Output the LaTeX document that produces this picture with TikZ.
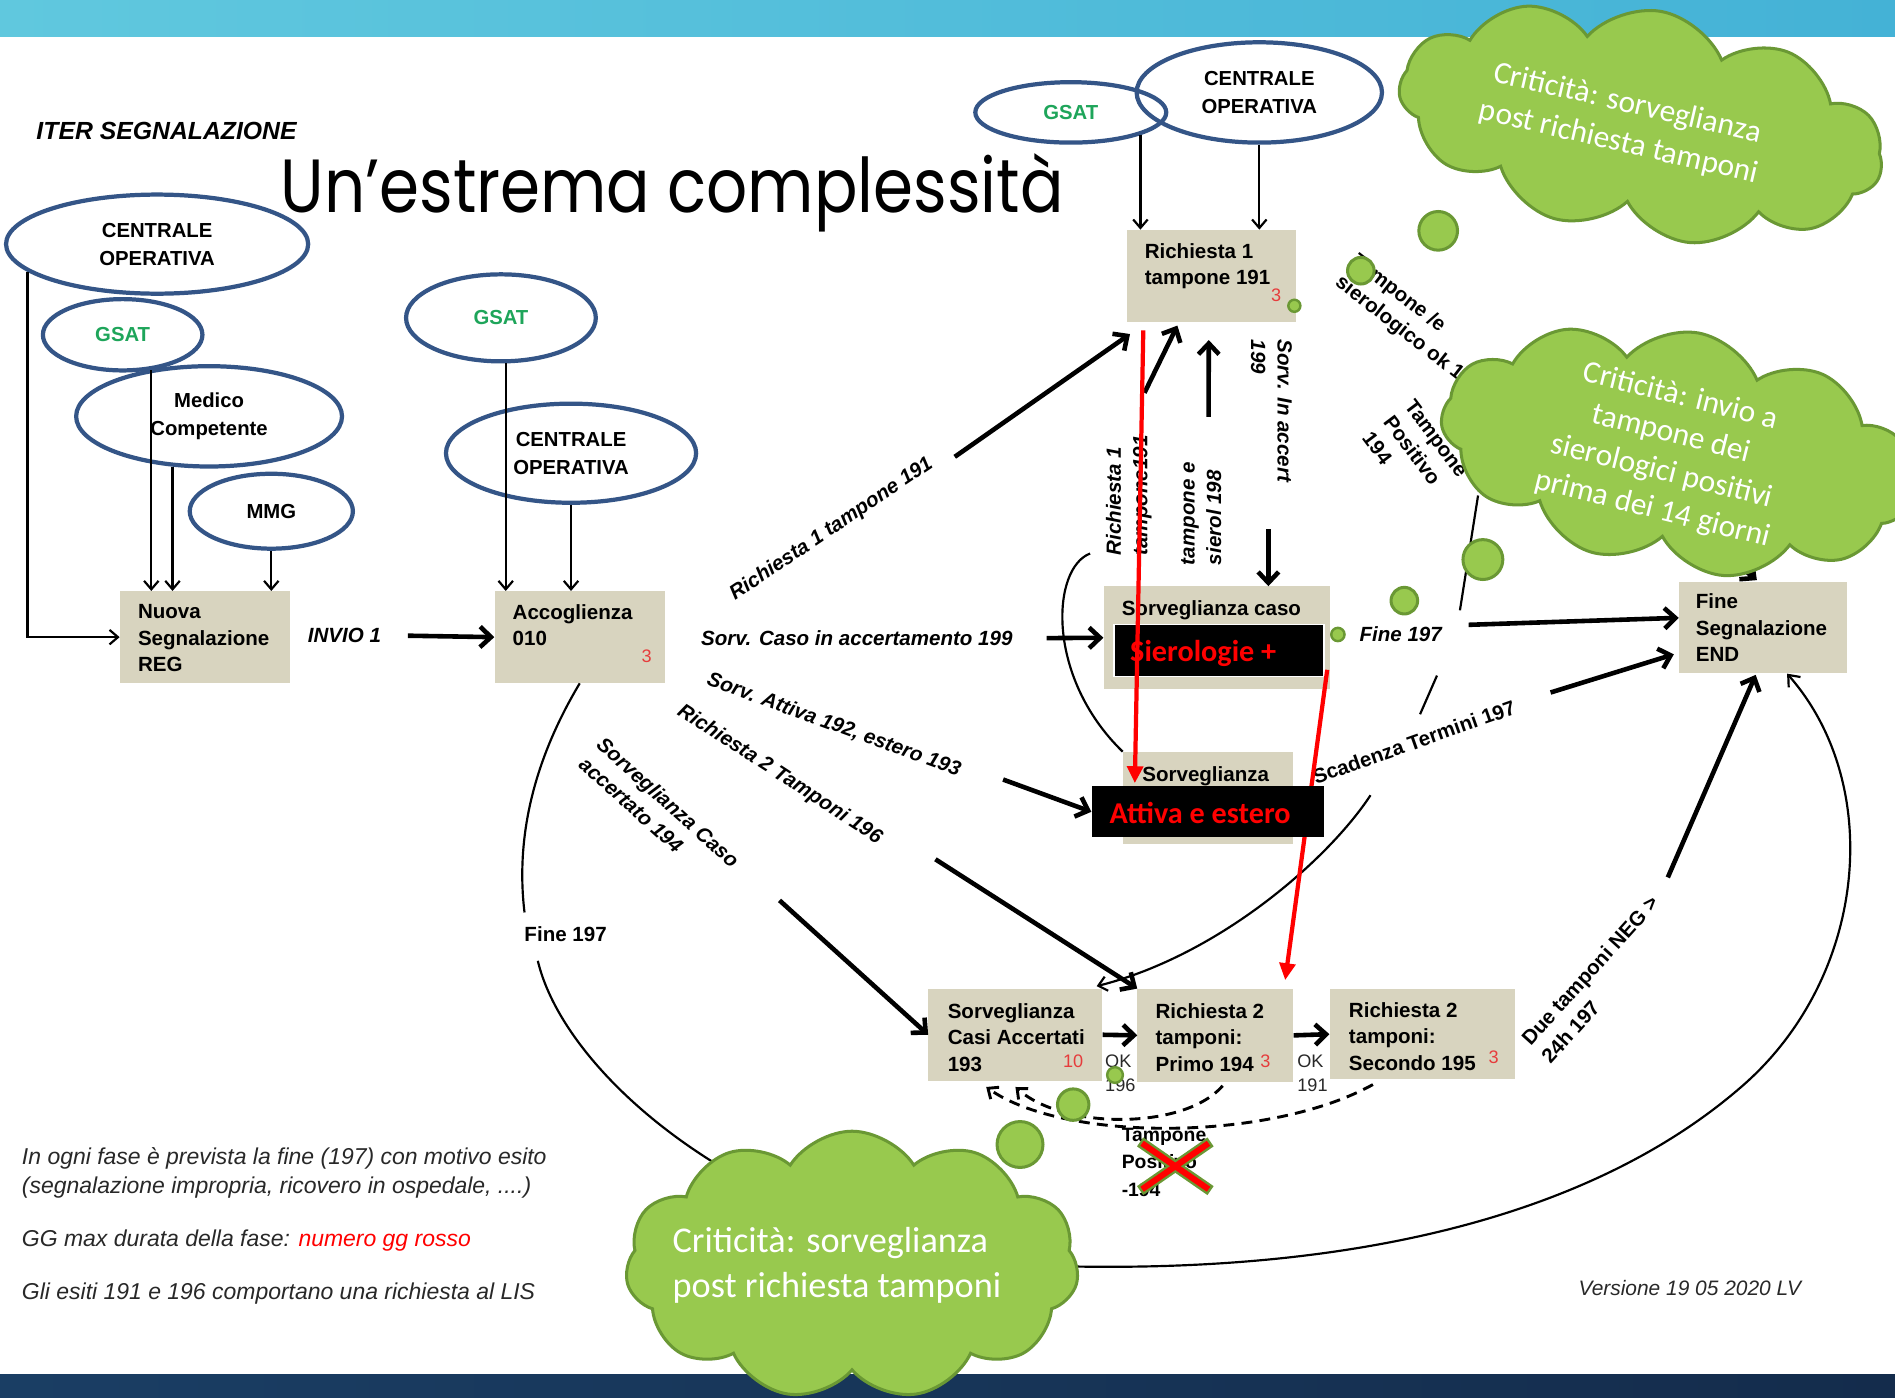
\documentclass[tikz,border=0pt]{standalone}
\usepackage{fontspec}
\setmainfont{Liberation Sans}
\newfontfamily\calib{Carlito}
\newfontfamily\titlef{Poppins}
\usetikzlibrary{arrows.meta,shapes.geometric,shapes.symbols,calc}
\pgfdeclarelayer{front}
\pgfsetlayers{main,front}
\definecolor{beige}{RGB}{216,212,191}
\definecolor{ellc}{RGB}{52,85,135}
\definecolor{gsatg}{RGB}{30,165,90}
\definecolor{cgreen}{RGB}{152,201,78}
\definecolor{cgreenD}{RGB}{106,152,52}
\definecolor{bandL}{RGB}{96,200,222}
\definecolor{bandR}{RGB}{68,178,214}
\definecolor{navyL}{RGB}{26,62,100}
\definecolor{navyR}{RGB}{20,44,76}
\definecolor{numred}{RGB}{230,60,60}
\definecolor{notec}{RGB}{40,40,40}
\begin{document}
\begin{tikzpicture}[x=1pt,y=-1pt,
 ell/.style={ellipse, draw=ellc, line width=3.5pt, inner sep=0, align=center, font=\fontsize{16.8}{23}\selectfont\bfseries},
 boxs/.style={fill=beige, draw=none, inner sep=0, anchor=north west},
 btxt/.style={font=\fontsize{17}{22}\selectfont\bfseries, align=left, anchor=north west, inner sep=0},
 num/.style={font=\fontsize{15}{15}\selectfont, text=numred, inner sep=0},
 lbi/.style={font=\fontsize{17}{22}\selectfont\bfseries\itshape, inner sep=0, align=left},
 lbu/.style={font=\fontsize{17}{22}\selectfont\bfseries, inner sep=0, align=left},
 thk/.style={line width=3.8pt, -{Straight Barb[length=9pt,width=17pt]}},
 thn/.style={line width=1.8pt, -{Straight Barb[length=7pt,width=12pt]}},
 crv/.style={line width=1.8pt},
 dsh/.style={line width=2.4pt, dash pattern=on 9pt off 6pt, -{Straight Barb[length=7pt,width=12pt]}},
 redarr/.style={draw=red, line width=3.5pt, -{Triangle[length=14pt,width=13pt]}},
 bub/.style={circle, fill=cgreen, draw=cgreenD, line width=2.5pt, inner sep=0},
 cld/.style={cloud, cloud puffs=11, cloud puff arc=115, cloud ignores aspect, fill=cgreen, draw=cgreenD, line width=2.5pt, inner sep=0},
 ctxt/.style={text=white, align=center, inner sep=0},
 blk/.style={fill=black, inner sep=0, anchor=north west},
 rtxt/.style={text=red, font=\calib\bfseries\fontsize{25}{25}\selectfont, inner sep=0, anchor=base west},
 note/.style={anchor=base west, inner sep=0, font=\fontsize{19}{22}\selectfont\itshape, text=notec}
]
\useasboundingbox (0,0) rectangle (1568,1156);
\fill[white] (0,0) rectangle (1568,1156);
\shade[left color=bandL, right color=bandR] (0,0) rectangle (1568,30);
\shade[left color=navyL, right color=navyR] (0,1137) rectangle (1568,1156);

% title and texts
\node[anchor=base west, inner sep=0, font=\titlef\fontsize{53.3}{60}\selectfont] (title) at (232,175.5) {\scalebox{1}[1.17]{Un’estrema complessità}};
\node[anchor=base west, inner sep=0, font=\fontsize{20.5}{22}\selectfont\bfseries\itshape] (iter) at (30,115.5) {ITER SEGNALAZIONE};
\node[note] (n1) at (18,963.5) {In ogni fase è prevista la fine (197) con motivo esito};
\node[note] (n2) at (18,987.5) {(segnalazione impropria, ricovero in ospedale, ....)};
\node[note] (n3) at (18,1031.5) {GG max durata della fase: \textcolor{red}{numero gg rosso}};
\node[note] (n4) at (18,1075.5) {Gli esiti 191 e 196 comportano una richiesta al LIS};
\node[note, font=\fontsize{17.3}{20}\selectfont\itshape] (ver) at (1306,1072) {Versione 19 05 2020 LV};

% ellipses
\node[ell, minimum width=250pt, minimum height=82pt] (coL) at (130,202) {CENTRALE\\OPERATIVA};
\node[ell, minimum width=132pt, minimum height=59pt, text=gsatg] (gsatL) at (101.5,277) {GSAT};
\node[ell, minimum width=220pt, minimum height=83pt] (med) at (173,344.5) {Medico\\Competente};
\node[ell, minimum width=135pt, minimum height=62pt] (mmg) at (224.5,423) {MMG};
\node[ell, minimum width=157pt, minimum height=72pt, text=gsatg] (gsatM) at (414.5,263) {GSAT};
\node[ell, minimum width=207pt, minimum height=82pt] (coM) at (472.5,375) {CENTRALE\\OPERATIVA};
\node[ell, minimum width=158pt, minimum height=50pt, text=gsatg] (gsatR) at (886,93) {GSAT};
\node[ell, minimum width=203pt, minimum height=83pt] (coR) at (1042,76.5) {CENTRALE\\OPERATIVA};

% boxes
\node[boxs, minimum width=141pt, minimum height=76pt] (nuova) at (99,489) {};
\node[boxs, minimum width=141pt, minimum height=76pt] (acc) at (409,489) {};
\node[boxs, minimum width=140pt, minimum height=76pt] (ric1) at (932,190) {};
\node[boxs, minimum width=187pt, minimum height=85pt] (sorvc) at (913,485) {};
\node[boxs, minimum width=141pt, minimum height=76pt] (sorva) at (929,622) {};
\node[boxs, minimum width=139pt, minimum height=76pt] (fineB) at (1389,481) {};
\node[boxs, minimum width=144pt, minimum height=76pt] (casi) at (768,818) {};
\node[boxs, minimum width=129pt, minimum height=77pt] (primo) at (941,818) {};
\node[boxs, minimum width=153pt, minimum height=75pt] (sec) at (1100,818) {};

\node[btxt] (nuovaT) at (114,500) {Nuova\\Segnalazione\\REG};
\node[btxt] (accT) at (424,500) {Accoglienza\\010};
\node[num] (accN) at (535,543) {3};
\node[btxt] (ric1T) at (947,201) {Richiesta 1\\tampone 191};
\node[num] (ric1N) at (1056,244) {3};
\node[btxt] (sorvcT) at (928,497) {Sorveglianza caso};
\node[btxt] (sorvaT) at (945,634) {Sorveglianza};
\node[btxt] (fineT) at (1403,491) {Fine\\Segnalazione\\END};
\node[btxt] (casiT) at (784,830) {Sorveglianza\\Casi Accertati\\193};
\node[num] (casiN) at (888,878.5) {10};
\node[btxt] (primoT) at (956,830) {Richiesta 2\\tamponi:\\Primo 194};
\node[num] (primoN) at (1047,878.5) {3};
\node[btxt] (secT) at (1116,829) {Richiesta 2\\tamponi:\\Secondo 195};
\node[num] (secN) at (1236,875) {3};

% black box on front layer
\begin{pgfonlayer}{front}
\node[blk, minimum width=192pt, minimum height=42pt] (attB) at (903,650.5) {};
\node[rtxt] (attT) at (918,681) {Attiva e estero};
\end{pgfonlayer}

% thin connectors from ellipses
\draw[thn] (coL.192) |- (nuova.west);
\draw[thn] (gsatL.-51) -- (gsatL.-51 |- nuova.north);
\draw[thn] (med.234) -- (med.234 |- nuova.north);
\draw[thn] (mmg.south) -- (mmg.south |- nuova.north);
\draw[thn] (gsatM.-84) -- (gsatM.-84 |- acc.north);
\draw[thn] (coM.south) -- (coM.south |- acc.north);
\draw[thn] (gsatR.-18) -- (gsatR.-18 |- ric1.north);
\draw[thn] (coR.south) -- (coR.south |- ric1.north);

% labels and thick arrows
\node[lbi] (invio) at (285,526) {INVIO 1};
\draw[thk] (invio.east) ++(22,0) -- (acc.west);

\node[lbi, rotate=34] (l191) at (688,438) {Richiesta 1 tampone 191};
\coordinate (r1s) at (790,378);
\draw[thk] (r1s) -- ($(ric1.south west)+(3,10)$);

\node[lbi] (lsc) at (709,528) {Sorv. Caso in accertamento 199};
\draw[thk] (lsc.east) ++(28,0) -- (sorvc.west);

\node[lbi, rotate=-20] (lsa) at (690,600) {Sorv. Attiva 192, estero 193};
\coordinate (sas) at (830,645);
\draw[thk] (sas) -- (attB.west);

\node[lbi, rotate=-33] (lr2) at (645,641) {Richiesta 2 Tamponi 196};
\coordinate (r2s) at (774,711);
\draw[thk] (r2s) -- (primo.north west);

\node[lbi, rotate=-42] (lsca) at (545.5,672) {Sorveglianza Caso\\accertato 194};
\coordinate (scas) at (645,745);
\draw[thk] (scas) -- (casi.west);

% big arc Accoglienza -> Fine
\node[lbu] (lf197) at (468,773) {Fine 197};
\coordinate (arcA) at (434,755);
\coordinate (arcB) at (445,795);
\draw[crv] (acc.south) .. controls (450,615) and (425,680) .. (arcA);
\draw[crv, -{Straight Barb[length=8pt,width=13pt]}] (arcB) .. controls (470,900) and (650,1045) .. (892,1048) .. controls (1150,1052) and (1330,995) .. (1440,900) .. controls (1545,810) and (1560,650) .. ($(fineB.south)+(20,0)$);

% right side
\node[lbi] (lf197r) at (1159,525) {Fine 197};
\draw[thk] (lf197r.east) ++(22,-8) -- ($(fineB.west)+(0,-8)$);

\node[lbu, rotate=19.5] (lscad) at (1170,614) {Scadenza Termini 197};
\coordinate (scs) at (1283,573);
\draw[thk] (scs) -- ($(fineB.south west)+(-4,-16)$);

\node[lbu, rotate=48] (ldue) at (1323.6,810.4) {Due tamponi NEG >\\24h 197};
\coordinate (dus) at (1380,726);
\draw[thk] (dus) -- ($(fineB.south)+(-6,1)$);

\node[lbu, rotate=-38] (ltse) at (1172,269) {Tampone /e\\sierologico ok 196};
\coordinate (tss) at (1385,425);
\draw[thk] (tss) -- ($(fineB.north)+(-5,-1)$);

\node[lbu, rotate=-53] (ltp) at (1171,376) {Tampone\\Positivo\\194};
\coordinate (tp1) at (1223,410);
\coordinate (tp2) at (1208,505);
\coordinate (tp3) at (1189,559);
\coordinate (tp4) at (1175,591);
\coordinate (tp5) at (1134,658);
\draw[crv] (tp1) -- (tp2);
\draw[crv] (tp3) -- (tp4);
\draw[crv, -{Straight Barb[length=7pt,width=12pt]}] (tp5) .. controls (1100,710) and (1010,790) .. ($(casi.north east)+(-5,-2)$);

% vertical labels and arrows near Richiesta 1
\node[lbi, rotate=90] (lr1v) at (934,410) {Richiesta 1\\tampone191};
\coordinate (rqs) at (947,325);
\draw[thk] (rqs) -- ($(ric1.south)+(-28,3)$);
\coordinate (cvs) at (902,458);
\draw[crv] (cvs) .. controls (870,470) and (865,560) .. (sorva.north west);

\node[lbi, rotate=90] (lts) at (994,425) {tampone e\\sierol 198};
\coordinate (tsS) at (1000,345);
\draw[thk] (tsS) -- ($(ric1.south)+(-2,15)$);

\node[lbi, rotate=-90] (lsia) at (1052,340) {Sorv. In accert\\199};
\coordinate (siaS) at (1049.5,438);
\draw[thk] (siaS) -- (siaS |- sorvc.north);

% bottom row
\draw[thk] (casi.east) -- (primo.west);
\draw[thk] (primo.east) -- (sec.west);
\node[font=\fontsize{15}{20}\selectfont, align=left, inner sep=0, text=notec] (ok196) at (927,888) {OK\\196};
\node[font=\fontsize{15}{20}\selectfont, align=left, inner sep=0, text=notec] (ok191) at (1086,888) {OK\\191};
\draw[dsh] ($(primo.south)+(6,3)$) .. controls (980,935) and (880,935) .. ($(casi.south)+(0,5)$);
\draw[dsh] ($(sec.south west)+(36,4)$) .. controls (1050,945) and (880,945) .. ($(casi.south west)+(48,5)$);
\node[font=\fontsize{16}{23}\selectfont\bfseries, align=left, anchor=north west, inner sep=0] (tpn) at (928,933) {Tampone\\Positivo\\-194};

% Sierologie box and red arrows
\node[blk, minimum width=174pt, minimum height=43pt, draw=white, line width=1.2pt] (sier) at (921,516) {};
\node[rtxt] (sierT) at (935,547) {Sierologie +};
\draw[redarr] ($(ric1.south west)+(14,7)$) -- ($(sorva.north west)+(10,26)$);
\draw[redarr] ($(sier.south east)+(2,-6)$) -- ($(primo.north east)+(-7,-7)$);

% front: bubbles, clouds, cross
\begin{pgfonlayer}{front}
\node[bub, minimum size=32pt] (b1) at (1190,191) {};
\node[bub, minimum size=22pt] (b2) at (1126,224) {};
\node[bub, minimum size=33pt] (b3) at (1227,463) {};
\node[bub, minimum size=22pt] (b4) at (1162,497) {};
\node[bub, minimum size=11pt, line width=2pt] (b5) at (1107,525) {};
\node[bub, minimum size=10pt, line width=2pt] (b6) at (1071,253) {};
\node[bub, minimum size=26pt] (b7) at (888,914) {};
\node[bub, minimum size=38pt] (b8) at (844,947) {};
\node[bub, minimum size=13pt, line width=2pt] (b9) at (922.6,889.5) {};

\node[cld, minimum width=405pt, minimum height=188pt, rotate=-10] (cl1) at (1358,102) {};
\node[ctxt, rotate=-13, font=\calib\fontsize{26}{33}\selectfont] (cl1T) at (1343,102) {Criticità: sorveglianza\\post richiesta tamponi};
\node[cld, minimum width=395pt, minimum height=198pt, rotate=-10] (cl2) at (1388,373) {};
\node[ctxt, rotate=-14, font=\calib\fontsize{26}{32}\selectfont] (cl2T) at (1379,375) {Criticità: invio a\\tampone dei\\sierologici positivi\\prima dei 14 giorni};
\node[cld, minimum width=375pt, minimum height=222pt] (cl3) at (705,1047) {};
\node[ctxt, align=left, font=\calib\fontsize{30}{37}\selectfont] (cl3T) at (692.5,1047) {Criticità: sorveglianza\\post richiesta tamponi};

\coordinate (x1) at (945,946);
\coordinate (x2) at (1000,984);
\coordinate (x3) at (1000,946);
\coordinate (x4) at (945,984);
\draw[cgreenD, line width=9pt, shorten <=-2pt, shorten >=-2pt] (x1) -- (x2);
\draw[cgreenD, line width=9pt, shorten <=-2pt, shorten >=-2pt] (x3) -- (x4);
\draw[red, line width=5pt] (x1) -- (x2);
\draw[red, line width=5pt] (x3) -- (x4);
\end{pgfonlayer}
\end{tikzpicture}
\end{document}
